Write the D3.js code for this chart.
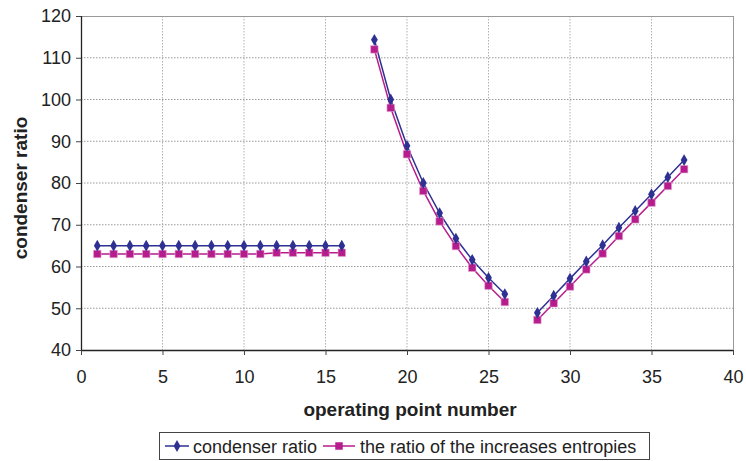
<!DOCTYPE html>
<html><head><meta charset="utf-8">
<script src="https://cdn.jsdelivr.net/npm/d3@7/dist/d3.min.js"></script>
<style>body{margin:0;background:#fff;} text{font-family:"Liberation Sans",Arial,sans-serif;}</style>
</head><body>
<svg id="c" width="746" height="461"></svg>
<script>
const pointsA = [1,2,3,4,5,6,7,8,9,10,11,12,13,14,15,16,null,18,19,20,21,22,23,24,25,26,null,28,29,30,31,32,33,34,35,36,37];
const condenserRatio = [65,65,65,65,65,65,65,65,65,65,65,65,65,65,65,65,null,114.3,100.0,88.9,80.0,72.8,66.7,61.6,57.3,53.4,null,48.9,53.0,57.1,61.2,65.1,69.3,73.3,77.3,81.4,85.5];
const entropyRatio = [63.0,63.0,63.0,63.0,63.0,63.0,63.0,63.0,63.0,63.0,63.0,63.3,63.3,63.3,63.3,63.3,null,112.0,98.0,86.9,78.1,70.8,64.9,59.7,55.4,51.5,null,47.2,51.2,55.2,59.3,63.1,67.3,71.3,75.3,79.3,83.3];
const xTicks = [0,5,10,15,20,25,30,35,40];
const yTicks = [40,50,60,70,80,90,100,110,120];
const seriesNames = ["condenser ratio","the ratio of the increases entropies"];
const colors = ["#2E3192","#B71C8C"];

const svg = d3.select("#c");
const L=81,R=733,T=16,B=350;
const x = d3.scaleLinear().domain([0,40]).range([L,R]);
const y = d3.scaleLinear().domain([40,120]).range([B,T]);

// gridlines
const g = svg.append("g");
g.selectAll(".hg").data(yTicks.filter(v=>v>40 && v<120)).enter().append("line")
 .attr("x1",L).attr("x2",R).attr("y1",d=>y(d)).attr("y2",d=>y(d))
 .attr("stroke","#9a9a9a").attr("stroke-dasharray","1.5,1.5").attr("stroke-width",1);
g.selectAll(".vg").data(xTicks.filter(v=>v>0 && v<40)).enter().append("line")
 .attr("y1",T).attr("y2",B).attr("x1",d=>x(d)).attr("x2",d=>x(d))
 .attr("stroke","#b0b0b0").attr("stroke-dasharray","1.5,1.5").attr("stroke-width",1);
// top & right border
svg.append("line").attr("x1",L).attr("x2",R).attr("y1",T+0.5).attr("y2",T+0.5).attr("stroke","#999");
svg.append("line").attr("x1",R+0.5).attr("x2",R+0.5).attr("y1",T).attr("y2",B).attr("stroke","#999");

// axes
const yAxis = d3.axisLeft(y).tickValues(yTicks).tickSize(5).tickPadding(5);
const xAxis = d3.axisBottom(x).tickValues(xTicks).tickSize(5).tickPadding(15);
const ya = svg.append("g").attr("transform",`translate(${L},0)`).call(yAxis);
const xa = svg.append("g").attr("transform",`translate(0,${B})`).call(xAxis);
[ya,xa].forEach(a=>{
  a.select(".domain").attr("stroke","#222").attr("stroke-width",1.3);
  a.selectAll(".tick line").attr("stroke","#444");
  a.selectAll("text").attr("font-size",18).attr("fill","#222").attr("font-family","Liberation Sans, Arial, sans-serif");
});
xa.select(".domain").attr("d",`M${L},0.5H${R}`);
ya.select(".domain").attr("d",`M0.5,${T}V${B}`);

// axis titles
svg.append("text").attr("x",410).attr("y",416).attr("text-anchor","middle")
 .attr("font-size",19).attr("font-weight","bold").attr("fill","#222").text("operating point number");
svg.append("text").attr("transform",`translate(27,188) rotate(-90)`).attr("text-anchor","middle")
 .attr("font-size",19).attr("font-weight","bold").attr("fill","#222").text("condenser ratio");

// series
const dataA = pointsA.map((p,i)=>({x:p,v:condenserRatio[i]}));
const dataB = pointsA.map((p,i)=>({x:p,v:entropyRatio[i]}));
const line = d3.line().defined(d=>d.x!==null && d.v!==null).x(d=>x(d.x)).y(d=>y(d.v));
svg.append("path").datum(dataB).attr("d",line).attr("fill","none").attr("stroke",colors[1]).attr("stroke-width",1.5);
svg.append("path").datum(dataA).attr("d",line).attr("fill","none").attr("stroke",colors[0]).attr("stroke-width",1.5);
const sq = d3.symbol().type(d3.symbolSquare).size(56);
const dm = d3.symbol().type(d3.symbolDiamond).size(40);
svg.selectAll(".sq").data(dataB.filter(d=>d.x!==null)).enter().append("path")
 .attr("d",sq).attr("transform",d=>`translate(${x(d.x)},${y(d.v)})`).attr("fill",colors[1]).attr("stroke","#e3a3d2").attr("stroke-width",0.6);
svg.selectAll(".dm").data(dataA.filter(d=>d.x!==null)).enter().append("path")
 .attr("d",dm).attr("transform",d=>`translate(${x(d.x)},${y(d.v)})`).attr("fill",colors[0]);

// legend
const lg = svg.append("g");
lg.append("rect").attr("x",159.5).attr("y",432.5).attr("width",490).attr("height",27).attr("fill","#fff").attr("stroke","#444");
lg.append("line").attr("x1",165).attr("x2",189).attr("y1",446).attr("y2",446).attr("stroke",colors[0]).attr("stroke-width",1.5);
lg.append("path").attr("d",dm).attr("transform","translate(177,446)").attr("fill",colors[0]);
lg.append("text").attr("x",193).attr("y",453).attr("font-size",18).attr("fill","#222").text(seriesNames[0]);
lg.append("line").attr("x1",323).attr("x2",355).attr("y1",446).attr("y2",446).attr("stroke",colors[1]).attr("stroke-width",1.5);
lg.append("path").attr("d",sq).attr("transform","translate(339,446)").attr("fill",colors[1]);
lg.append("text").attr("x",360).attr("y",453).attr("font-size",18).attr("fill","#222").text(seriesNames[1]);
</script>
</body></html>
